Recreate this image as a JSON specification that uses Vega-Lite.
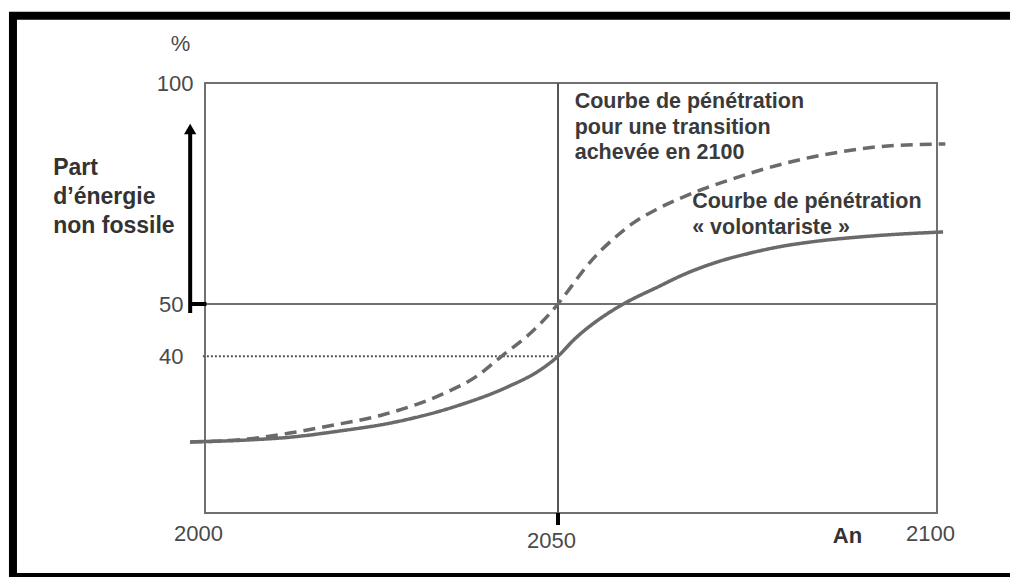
{
  "$schema": "https://vega.github.io/schema/vega-lite/v6.json",
  "width": 732,
  "height": 430,
  "autosize": "none",
  "padding": {"left": 205, "top": 83, "right": 73, "bottom": 64},
  "background": "white",
  "config": {"view": {"stroke": "#707070", "strokeWidth": 2}, "font": "Liberation Sans"},
  "datasets": {
    "curves": [
      {"series": "volontariste", "year": 1997.9, "value": 23.6},
      {"series": "volontariste", "year": 2006.4, "value": 24.0},
      {"series": "volontariste", "year": 2012.0, "value": 24.5},
      {"series": "volontariste", "year": 2019.1, "value": 25.7},
      {"series": "volontariste", "year": 2026.2, "value": 27.2},
      {"series": "volontariste", "year": 2035.7, "value": 30.5},
      {"series": "volontariste", "year": 2042.8, "value": 34.1},
      {"series": "volontariste", "year": 2047.5, "value": 37.4},
      {"series": "volontariste", "year": 2050.0, "value": 40.0},
      {"series": "volontariste", "year": 2052.2, "value": 43.3},
      {"series": "volontariste", "year": 2054.6, "value": 46.2},
      {"series": "volontariste", "year": 2056.9, "value": 48.5},
      {"series": "volontariste", "year": 2059.1, "value": 50.45},
      {"series": "volontariste", "year": 2063.1, "value": 53.8},
      {"series": "volontariste", "year": 2066.5, "value": 56.6},
      {"series": "volontariste", "year": 2071.0, "value": 59.5},
      {"series": "volontariste", "year": 2075.3, "value": 61.5},
      {"series": "volontariste", "year": 2079.7, "value": 63.1},
      {"series": "volontariste", "year": 2083.2, "value": 64.0},
      {"series": "volontariste", "year": 2091.5, "value": 65.4},
      {"series": "volontariste", "year": 2100.8, "value": 66.3},
      {"series": "transition 2100", "year": 1997.9, "value": 23.6},
      {"series": "transition 2100", "year": 2006.4, "value": 24.2},
      {"series": "transition 2100", "year": 2012.0, "value": 25.3},
      {"series": "transition 2100", "year": 2017.7, "value": 26.7},
      {"series": "transition 2100", "year": 2025.2, "value": 28.8},
      {"series": "transition 2100", "year": 2033.7, "value": 32.8},
      {"series": "transition 2100", "year": 2038.5, "value": 36.2},
      {"series": "transition 2100", "year": 2041.9, "value": 39.9},
      {"series": "transition 2100", "year": 2046.0, "value": 44.3},
      {"series": "transition 2100", "year": 2050.0, "value": 50.0},
      {"series": "transition 2100", "year": 2051.6, "value": 53.6},
      {"series": "transition 2100", "year": 2053.3, "value": 57.5},
      {"series": "transition 2100", "year": 2055.1, "value": 61.1},
      {"series": "transition 2100", "year": 2057.3, "value": 64.7},
      {"series": "transition 2100", "year": 2059.9, "value": 68.3},
      {"series": "transition 2100", "year": 2063.1, "value": 71.5},
      {"series": "transition 2100", "year": 2066.5, "value": 74.2},
      {"series": "transition 2100", "year": 2069.1, "value": 76.0},
      {"series": "transition 2100", "year": 2072.7, "value": 78.1},
      {"series": "transition 2100", "year": 2076.3, "value": 80.1},
      {"series": "transition 2100", "year": 2079.7, "value": 81.7},
      {"series": "transition 2100", "year": 2082.8, "value": 83.0},
      {"series": "transition 2100", "year": 2087.2, "value": 84.4},
      {"series": "transition 2100", "year": 2091.8, "value": 85.5},
      {"series": "transition 2100", "year": 2096.0, "value": 86.0},
      {"series": "transition 2100", "year": 2101.1, "value": 86.2}
    ]
  },
  "encoding": {
    "x": {
      "field": "year",
      "type": "quantitative",
      "scale": {"domain": [2000, 2050, 2100], "range": [0, 353, 732], "nice": false, "zero": false},
      "axis": {
        "values": [2000, 2050, 2100],
        "format": "d",
        "title": "An",
        "domain": false,
        "ticks": false,
        "grid": false,
        "labelFontSize": 22,
        "labelColor": "#4a4a4a",
        "labelOffset": -7,
        "labelPadding": {"condition": {"test": "datum.value === 2050", "value": 17}, "value": 10},
        "labelFlush": false,
        "labelOverlap": false,
        "titleFontSize": 22,
        "titleFontWeight": "bold",
        "titleColor": "#333333",
        "titleX": 642,
        "titleY": 22,
        "titleBaseline": "middle",
        "titleAlign": "center"
      }
    },
    "y": {
      "field": "value",
      "type": "quantitative",
      "scale": {"domain": [10, 50, 100], "range": [430, 221, 0], "nice": false, "zero": false},
      "axis": {
        "values": [40, 50, 100],
        "title": "%",
        "domain": false,
        "ticks": false,
        "grid": false,
        "labelFontSize": 22,
        "labelColor": "#4a4a4a",
        "labelPadding": {"condition": {"test": "datum.value === 100", "value": 12}, "value": 22},
        "labelFlush": false,
        "labelOverlap": false,
        "labelBaseline": "middle",
        "titleAngle": 0,
        "titleX": -25,
        "titleY": -40,
        "titleAlign": "center",
        "titleBaseline": "middle",
        "titleFontSize": 22,
        "titleFontWeight": "normal",
        "titleColor": "#4a4a4a"
      }
    }
  },
  "layer": [
    {
      "data": {"values": [{"year": 1972.8, "year2": 2110.3, "value": -2.25, "value2": 115.2}]},
      "mark": {"type": "rect", "fill": "transparent", "stroke": "black", "strokeWidth": 8, "clip": false},
      "encoding": {"x2": {"field": "year2"}, "y2": {"field": "value2"}}
    },
    {
      "data": {"values": [{"year": 2000, "year2": 2100, "value": 50, "value2": 50}]},
      "mark": {"type": "rule", "stroke": "#707070", "strokeWidth": 2},
      "encoding": {"x2": {"field": "year2"}, "y2": {"field": "value2"}}
    },
    {
      "data": {"values": [{"year": 2050, "year2": 2050, "value": 10, "value2": 100}]},
      "mark": {"type": "rule", "stroke": "#555555", "strokeWidth": 2},
      "encoding": {"x2": {"field": "year2"}, "y2": {"field": "value2"}}
    },
    {
      "data": {"values": [{"year": 1999.7, "year2": 2050, "value": 40, "value2": 40}]},
      "mark": {"type": "rule", "stroke": "#555555", "strokeWidth": 2, "strokeDash": [2, 2]},
      "encoding": {"x2": {"field": "year2"}, "y2": {"field": "value2"}}
    },
    {
      "data": {"values": [
        {"year": 1997.9, "year2": 2000.2, "value": 50, "value2": 50},
        {"year": 2050, "year2": 2050, "value": 7.7, "value2": 10},
        {"year": 1997.9, "year2": 1997.9, "value": 48.3, "value2": 89.0}
      ]},
      "mark": {"type": "rule", "stroke": "black", "strokeWidth": 4, "clip": false},
      "encoding": {"x2": {"field": "year2"}, "y2": {"field": "value2"}}
    },
    {
      "data": {"values": [{"year": 1997.9, "value": 89.6}]},
      "mark": {"type": "point", "shape": "triangle-up", "size": 150, "filled": true, "color": "black", "opacity": 1, "clip": false}
    },
    {
      "data": {"name": "curves"},
      "mark": {"type": "line", "color": "#6a6a6a", "strokeWidth": 3.5, "interpolate": "monotone", "clip": false},
      "encoding": {
        "detail": {"field": "series", "type": "nominal"},
        "strokeDash": {
          "field": "series",
          "type": "nominal",
          "scale": {"domain": ["volontariste", "transition 2100"], "range": [[1, 0], [12, 7]]},
          "legend": null
        }
      }
    },
    {
      "data": {"values": [{"year": 1978.5, "value": 79.2, "label": "Part\nd’énergie\nnon fossile"}]},
      "mark": {"type": "text", "align": "left", "baseline": "alphabetic", "lineBreak": "\n", "fontSize": 23, "fontWeight": "bold", "lineHeight": 29, "color": "#333333", "clip": false},
      "encoding": {"text": {"field": "label", "type": "nominal"}}
    },
    {
      "data": {"values": [
        {"year": 2052.2, "value": 94.3, "label": "Courbe de pénétration\npour une transition\nachevée en 2100"},
        {"year": 2067.7, "value": 71.7, "label": "Courbe de pénétration\n« volontariste »"}
      ]},
      "mark": {"type": "text", "align": "left", "baseline": "alphabetic", "lineBreak": "\n", "fontSize": 21.5, "fontWeight": "bold", "lineHeight": 25.5, "color": "#3a3a3a", "clip": false},
      "encoding": {"text": {"field": "label", "type": "nominal"}}
    }
  ]
}
